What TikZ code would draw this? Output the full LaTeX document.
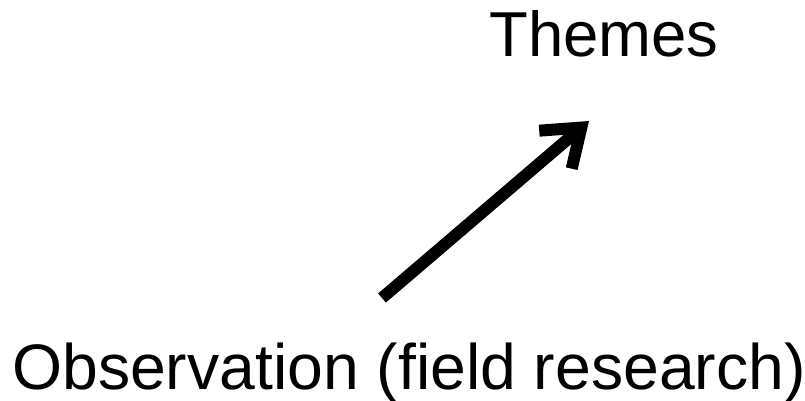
\documentclass[tikz,border=0pt]{standalone}
\usepackage{fontspec}
\setmainfont{Liberation Sans}
\usetikzlibrary{arrows.meta}
\begin{document}
\begin{tikzpicture}[x=1pt,y=-1pt,
  lbl/.style={anchor=base,inner sep=0pt,font=\fontsize{63.5}{75}\selectfont},
  conn/.style={line width=12pt,-{Straight Barb[length=34pt,width=50pt]}}]
\useasboundingbox (0,0) rectangle (805,401);
\node[lbl] (themes) at (604,57) {Themes};
\node[lbl,font=\fontsize{64.3}{75}\selectfont] (obs) at (409,389) {Observation (field research)};
\coordinate (tail) at (382,298);
\coordinate (tip) at (589,121);
\draw[conn] (tail) -- (tip);
\end{tikzpicture}
\end{document}
